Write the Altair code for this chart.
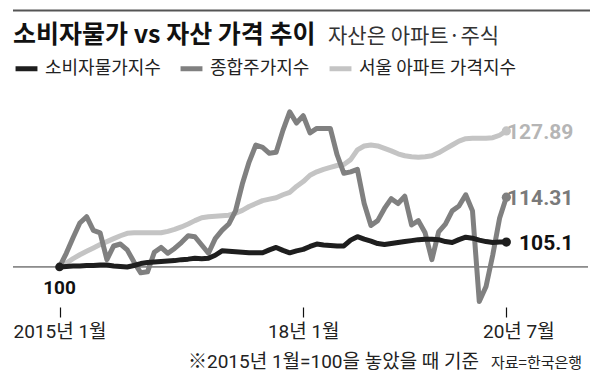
import altair as alt
import pandas as pd

# ---------------- data ----------------
months = list(range(67))  # 2015-01 .. 2020-07

cpi = [100, 100.1, 100.2, 100.2, 100.3, 100.3, 100.4, 100.4, 100.2, 100.1,
       100.0, 100.3, 100.7, 100.9, 101.0, 101.1, 101.2, 101.3, 101.5, 101.6,
       101.8, 101.7, 101.8, 102.4, 103.3, 103.2, 103.1, 103.0, 102.9, 102.9,
       102.9, 103.5, 104.0, 103.4, 102.9, 103.3, 103.6, 104.2, 104.7, 104.5,
       104.4, 104.3, 104.3, 105.5, 106.2, 105.7, 105.3, 104.8, 104.6, 104.8,
       105.0, 105.2, 105.4, 105.6, 105.7, 105.7, 105.6, 105.2, 105.0, 105.6,
       106.1, 105.9, 105.5, 105.2, 105.0, 105.1, 105.1]

kospi = [100, 102.8, 106, 109, 110.3, 107.5, 107, 101.5, 104.3, 104.7,
         103.5, 101, 98.8, 99, 103, 104, 102.8, 103.8, 105, 106.4,
         106.2, 104.5, 102.8, 105.8, 107.5, 108.8, 111.5, 117, 121.5, 125,
         124.5, 123.3, 123.5, 128, 131.8, 129.5, 131, 127.5, 128.4, 128.4,
         128.4, 123, 119.2, 119.5, 120, 113, 108.5, 109.5, 112, 114,
         113, 114.5, 108.6, 109.5, 107, 101.5, 107.2, 108.8, 111.5, 112.5,
         114.8, 111.5, 92.9, 96, 102.5, 110, 114.31]

apt = [100, 100.8, 101.7, 102.5, 103.2, 103.9, 104.6, 105.2, 105.8, 106.4,
       106.9, 107, 107, 107, 107, 107, 107.3, 107.7, 108.2, 108.8,
       109.5, 110.1, 110.3, 110.4, 110.5, 110.6, 111, 111.6, 112.4, 113,
       113.6, 113.9, 114.2, 114.8, 115.3, 116.5, 117.5, 118.8, 119.5, 120,
       120.4, 120.8, 121, 122, 124, 124.8, 125, 124.8, 124.3, 123.8,
       123.2, 122.8, 122.6, 122.5, 122.6, 122.8, 123.4, 124.2, 125, 125.8,
       126.3, 126.4, 126.4, 126.4, 126.5, 127, 127.89]

series_names = ["소비자물가지수", "종합주가지수", "서울 아파트 가격지수"]
series_colors = ["#1e1e1e", "#808080", "#c4c4c4"]
label_colors = ["#111111", "#7a7a7a", "#b5b5b5"]
end_labels = ["105.1", "114.31", "127.89"]
start_label = "100"
baseline_value = 100
tick_months = [0, 36, 66]
tick_labels = ["2015년 1월", "18년 1월", "20년 7월"]

title_text = "소비자물가 vs 자산 가격 추이"
subtitle_text = "자산은 아파트·주식"
note_text = "※2015년 1월=100을 놓았을 때 기준"
source_text = "자료=한국은행"

# ---------------- tables ----------------
series_vals = [cpi, kospi, apt]
rows = []
for name, vals in zip(series_names, series_vals):
    for m, v in zip(months, vals):
        rows.append({"m": m, "v": v, "s": name})
df = pd.DataFrame(rows)

ends = pd.DataFrame({
    "m": [months[-1]] * 3,
    "v": [vals[-1] for vals in series_vals],
    "s": series_names,
    "label": end_labels,
})
start = pd.DataFrame({"m": [months[0]], "v": [cpi[0]], "label": [start_label]})
base = pd.DataFrame({"v": [baseline_value]})
one = pd.DataFrame({"a": [0]})

KFONT = "Noto Sans CJK KR"
NFONT = "Liberation Sans Narrow, Roboto, Noto Sans CJK KR"

x_domain = [-6.87, 78.06]
xscale = alt.Scale(domain=x_domain, nice=False, zero=False)
yscale = alt.Scale(domain=[92.2, 135.25], nice=False, zero=False)
cscale = alt.Scale(domain=series_names, range=series_colors)

label_expr = " : ".join(
    [f"datum.value == {m} ? '{t}'" for m, t in zip(tick_months[:-1], tick_labels[:-1])]
) + f" : '{tick_labels[-1]}'"

xaxis = alt.Axis(
    values=tick_months, labelExpr=label_expr, domain=False, grid=False,
    ticks=True, tickSize=10, tickColor="#111", tickWidth=1.2, tickOpacity=1, offset=2,
    labelFont=NFONT, labelFontSize=19, labelColor="#222", labelPadding=5,
    labelFlush=False, title=None,
    labelOffset={"condition": {"test": f"datum.value == {tick_months[-1]}", "value": 12}, "value": 0},
)

legend = alt.Legend(
    title=None, orient="none", legendX=0, legendY=-40, direction="horizontal",
    symbolType="stroke", symbolStrokeWidth=5, symbolSize=480,
    labelFont=KFONT, labelFontSize=18, labelColor="#222", labelOffset=5,
    columnPadding=9, labelLimit=400,
)

X = alt.X("m:Q", scale=xscale, axis=xaxis)
Y = alt.Y("v:Q", scale=yscale, axis=None)

# baseline at 100
rule = alt.Chart(base).mark_rule(color="#333", strokeWidth=1).encode(
    y=alt.Y("v:Q", scale=yscale, axis=None)
)

# lines (drawn light -> dark)
line_layers = []
for name in reversed(series_names):
    line_layers.append(
        alt.Chart(df).transform_filter(alt.datum.s == name).mark_line(
            strokeWidth=5, strokeJoin="round", strokeCap="round"
        ).encode(x=X, y=Y, color=alt.Color("s:N", scale=cscale, legend=legend))
    )

end_points = alt.Chart(ends).mark_circle(size=85, opacity=1).encode(
    x=X, y=Y, color=alt.Color("s:N", scale=cscale, legend=None)
)
start_point = alt.Chart(start).mark_circle(size=75, opacity=1, color=series_colors[0]).encode(x=X, y=Y)
start_text = alt.Chart(start).mark_text(
    font=NFONT, fontSize=19, fontWeight="bold", color="#111", dy=21, baseline="middle"
).encode(x=X, y=Y, text="label:N")

end_texts = []
for name, col in zip(series_names, label_colors):
    end_texts.append(
        alt.Chart(ends).transform_filter(alt.datum.s == name).mark_text(
            font=NFONT, fontSize=21, fontWeight="bold", color=col,
            align="right", dx=67, dy=2, baseline="middle"
        ).encode(x=X, y=Y, text="label:N")
    )

top_rule = alt.Chart(one).mark_rect(color="#555", opacity=1).encode(
    x=alt.value(0), x2=alt.value(577), y=alt.value(-85.5), y2=alt.value(-83.5)
)
title = alt.Chart(one).mark_text(
    text=title_text, font=KFONT, fontSize=25, fontWeight="bold", color="#111",
    align="left", baseline="alphabetic"
).encode(x=alt.value(0), y=alt.value(-52))
subtitle = alt.Chart(one).mark_text(
    text=subtitle_text, font=KFONT, fontSize=21, color="#333",
    align="left", baseline="alphabetic"
).encode(x=alt.value(315), y=alt.value(-52))
note = alt.Chart(one).mark_text(
    text=note_text, font=NFONT, fontSize=19, color="#222",
    align="left", baseline="middle"
).encode(x=alt.value(175), y=alt.value(267))
source = alt.Chart(one).mark_text(
    text=source_text, font=KFONT, fontSize=15, color="#222",
    align="left", baseline="middle"
).encode(x=alt.value(478), y=alt.value(268))

chart = alt.layer(
    rule, *line_layers, end_points, start_point, start_text, *end_texts,
    top_rule, title, subtitle, note, source
).properties(
    width=575, height=210,
    autosize=alt.AutoSizeParams(type="none"),
    padding={"left": 5, "top": 87, "right": 4, "bottom": 70},
).configure_view(strokeOpacity=0)

chart.save("out.html", embed_options={"renderer": "svg", "actions": False})
